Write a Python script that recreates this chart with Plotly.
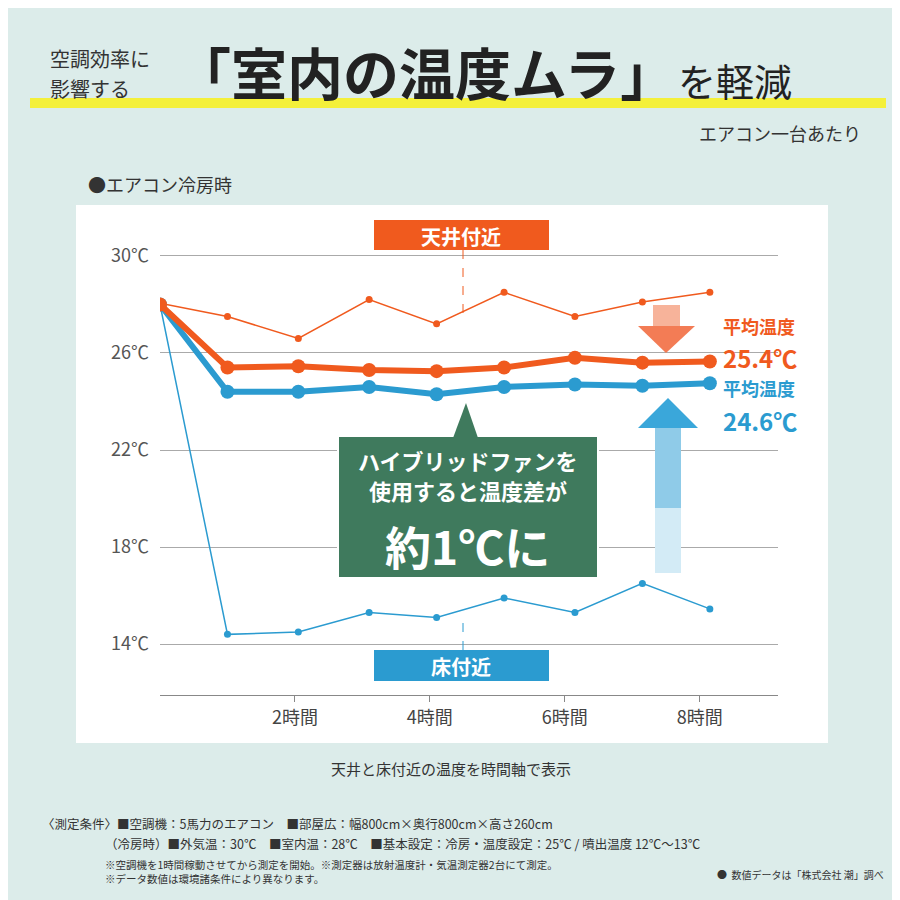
import plotly.graph_objects as go

# データ (時間, ℃)
hours = [0, 1, 2.05, 3.1, 4.1, 5.1, 6.15, 7.15, 8.15]
ceiling_raw = [28.05, 27.5, 26.6, 28.2, 27.2, 28.5, 27.5, 28.1, 28.5]
ceiling_avg = [28.0, 25.4, 25.45, 25.3, 25.25, 25.4, 25.8, 25.6, 25.65]
floor_avg = [28.0, 24.4, 24.4, 24.6, 24.3, 24.6, 24.7, 24.65, 24.75]
floor_raw = [28.0, 14.4, 14.5, 15.3, 15.1, 15.9, 15.3, 16.5, 15.45]
tick_vals = [2, 4, 6, 8]
tick_text = ["2時間", "4時間", "6時間", "8時間"]
y_ticks = [14, 18, 22, 26, 30]
y_text = ["14℃", "18℃", "22℃", "26℃", "30℃"]

ORANGE = "#f05a1e"
BLUE = "#2b9bd0"
GREEN = "#3f7a5d"
FONT = "Noto Sans CJK JP"

def px(x):
    return x / 900

def py(y):
    return 1 - y / 900

fig = go.Figure()
fig.add_trace(go.Scatter(x=hours, y=ceiling_raw, mode="lines+markers",
                         line=dict(color=ORANGE, width=1.5), marker=dict(size=7, color=ORANGE)))
fig.add_trace(go.Scatter(x=hours, y=floor_raw, mode="lines+markers",
                         line=dict(color=BLUE, width=1.5), marker=dict(size=7, color=BLUE)))
fig.add_trace(go.Scatter(x=hours, y=floor_avg, mode="lines+markers",
                         line=dict(color=BLUE, width=6), marker=dict(size=14, color=BLUE)))
fig.add_trace(go.Scatter(x=hours, y=ceiling_avg, mode="lines+markers",
                         line=dict(color=ORANGE, width=6), marker=dict(size=14, color=ORANGE)))

shapes = [
    # 白いパネル
    dict(type="rect", xref="paper", yref="paper", x0=px(68), x1=px(820), y0=py(735), y1=py(197),
         fillcolor="white", line=dict(width=0), layer="below"),
    # タイトル下の黄色ライン
    dict(type="rect", xref="paper", yref="paper", x0=px(22), x1=px(878), y0=py(100), y1=py(90),
         fillcolor="#f4f03a", line=dict(width=0), layer="below"),
    # 天井付近
    dict(type="rect", xref="paper", yref="paper", x0=px(366), x1=px(541), y0=py(242), y1=py(212),
         fillcolor=ORANGE, line=dict(width=0)),
    dict(type="line", xref="paper", yref="paper", x0=px(455), x1=px(455), y0=py(242), y1=py(305),
         line=dict(color=ORANGE, width=1, dash="dash")),
    # 床付近
    dict(type="rect", xref="paper", yref="paper", x0=px(366), x1=px(541), y0=py(673), y1=py(642),
         fillcolor=BLUE, line=dict(width=0)),
    dict(type="line", xref="paper", yref="paper", x0=px(455), x1=px(455), y0=py(642), y1=py(608),
         line=dict(color=BLUE, width=1, dash="dash")),
    # 緑の吹き出し
    dict(type="rect", xref="paper", yref="paper", x0=px(330), x1=px(590), y0=py(570), y1=py(428),
         fillcolor=GREEN, line=dict(color="white", width=2)),
    dict(type="path", xref="paper", yref="paper",
         path=f"M {px(445)} {py(430)} L {px(458)} {py(395)} L {px(470)} {py(430)} Z",
         fillcolor=GREEN, line=dict(width=0)),
    # オレンジ下向き矢印
    dict(type="rect", xref="paper", yref="paper", x0=px(645), x1=px(672), y0=py(318), y1=py(297),
         fillcolor="#f7b39a", line=dict(width=0)),
    dict(type="path", xref="paper", yref="paper",
         path=f"M {px(630)} {py(318)} L {px(687)} {py(318)} L {px(658)} {py(345)} Z",
         fillcolor="#f37c55", line=dict(width=0)),
    # 青上向き矢印
    dict(type="rect", xref="paper", yref="paper", x0=px(647), x1=px(673), y0=py(565), y1=py(420),
         fillcolor="#d3ebf6", line=dict(width=0)),
    dict(type="rect", xref="paper", yref="paper", x0=px(647), x1=px(673), y0=py(500), y1=py(420),
         fillcolor="#8fcbe8", line=dict(width=0)),
    dict(type="path", xref="paper", yref="paper",
         path=f"M {px(630)} {py(420)} L {px(690)} {py(420)} L {px(660)} {py(390)} Z",
         fillcolor="#3aa7da", line=dict(width=0)),
]

def txt(x, y, s, size, color="#333", weight=None, anchor="left"):
    return dict(x=px(x), y=py(y), xref="paper", yref="paper", text=s, showarrow=False,
                xanchor=anchor, yanchor="middle",
                font=dict(family=FONT, size=size, color=color, weight=weight))

annotations = [
    txt(40, 50, "空調効率に", 20),
    txt(40, 80, "影響する", 20),
    txt(165, 62, "「室内の温度ムラ」", 56, "#222", "bold"),
    txt(668, 72, "を軽減", 38, "#222"),
    txt(855, 125, "エアコン一台あたり", 18, "#333", anchor="right"),
    txt(78, 176, "●エアコン冷房時", 18, "#333"),
    txt(453, 228, "天井付近", 20, "white", "bold", "center"),
    txt(453, 658, "床付近", 20, "white", "bold", "center"),
    txt(460, 452, "ハイブリッドファンを", 22, "white", "bold", "center"),
    txt(460, 482, "使用すると温度差が", 22, "white", "bold", "center"),
    txt(460, 537, "約1℃に", 46, "white", "bold", "center"),
    txt(713, 318, "平均温度", 18, ORANGE, "bold"),
    txt(713, 350, "25.4℃", 24, ORANGE, "bold"),
    txt(713, 380, "平均温度", 18, BLUE, "bold"),
    txt(713, 412, "24.6℃", 24, BLUE, "bold"),
    txt(443, 760, "天井と床付近の温度を時間軸で表示", 15, "#333", anchor="center"),
    txt(32, 815, "〈測定条件〉■空調機：5馬力のエアコン　■部屋広：幅800cm×奥行800cm×高さ260cm", 12.5),
    txt(95, 835, "（冷房時）■外気温：30℃　■室内温：28℃　■基本設定：冷房・温度設定：25℃ / 噴出温度 12℃〜13℃", 12.5),
    txt(95, 856, "※空調機を1時間稼動させてから測定を開始。※測定器は放射温度計・気温測定器2台にて測定。", 10.5),
    txt(95, 870, "※データ数値は環境諸条件により異なります。", 10.5),
    txt(878, 866, "●  数値データは「株式会社 潮」調べ", 10, anchor="right"),
]

fig.update_layout(
    width=900, height=900, margin=dict(l=0, r=0, t=0, b=0),
    paper_bgcolor="#dcecea", plot_bgcolor="rgba(0,0,0,0)", showlegend=False,
    font=dict(family=FONT, color="#444"),
    shapes=shapes, annotations=annotations,
    xaxis=dict(domain=[px(152), px(770)], range=[0, 9.16], tickvals=tick_vals, ticktext=tick_text,
               showgrid=False, zeroline=False, showline=True, linecolor="#888", ticks="outside",
               ticklen=6, tickcolor="#888", tickfont=dict(size=18, color="#444")),
    yaxis=dict(domain=[py(687), py(197)], range=[11.9, 32.1], tickvals=y_ticks, ticktext=y_text,
               showgrid=True, gridcolor="#aaa", zeroline=False, showline=False,
               ticks="", ticklabelstandoff=10, tickfont=dict(size=18, color="#555")),
)

fig.write_html("out.html")
